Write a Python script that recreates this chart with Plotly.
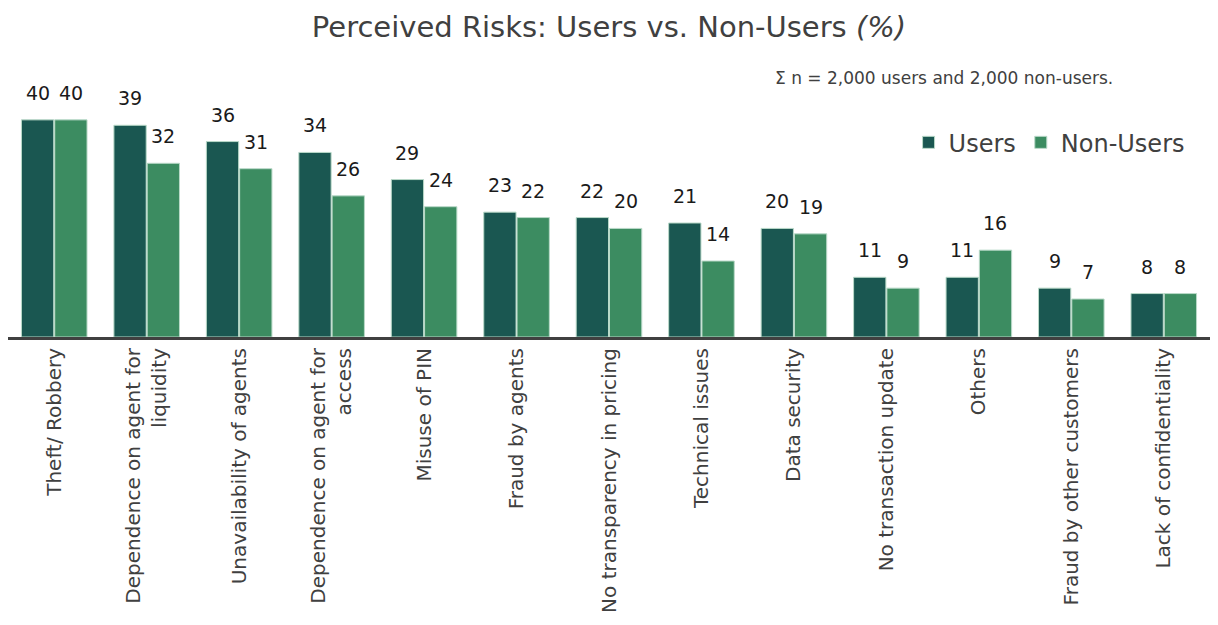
import plotly.graph_objects as go

categories = [
    "Theft/ Robbery",
    "Dependence on agent for<br>liquidity",
    "Unavailability of agents",
    "Dependence on agent for<br>access",
    "Misuse of PIN",
    "Fraud by agents",
    "No transparency in pricing",
    "Technical issues",
    "Data security",
    "No transaction update",
    "Others",
    "Fraud by other customers",
    "Lack of confidentiality",
]
users = [40, 39, 36, 34, 29, 23, 22, 21, 20, 11, 11, 9, 8]
non_users = [40, 32, 31, 26, 24, 22, 20, 14, 19, 9, 16, 7, 8]

FONT = "'DejaVu Sans', sans-serif"
DARK = "#1A5751"
LIGHT = "#3C8C61"
TEXT = "#404040"

BARGAP = 0.28
GROUPGAP = 0.03
PLOT_W = 1218 - 16
slot = PLOT_W / len(categories)
half_offset = slot * (1 - BARGAP) / 4  # distance from category centre to each bar centre

fig = go.Figure()
series = [("Users", users, DARK, -1), ("Non-Users", non_users, LIGHT, 1)]
for name, vals, col, side in series:
    fig.add_trace(go.Bar(
        name=name,
        x=categories,
        y=vals,
        marker=dict(color=col, line=dict(color="#B9D9C8", width=1)),
        cliponaxis=False,
    ))

# value labels above each bar
annotations = []
for name, vals, col, side in series:
    for cat, v in zip(categories, vals):
        annotations.append(dict(
            x=cat, y=v, xref="x", yref="y",
            xshift=side * half_offset, yshift=14,
            text=str(v), showarrow=False,
            xanchor="center", yanchor="bottom",
            font=dict(size=19, color="#1a1a1a", family=FONT),
        ))

annotations.append(dict(
    text="Σ n = 2,000 users and 2,000 non-users.",
    xref="paper", yref="paper",
    x=0.921, xanchor="right",
    y=1.0, yanchor="bottom",
    yshift=19,
    showarrow=False,
    font=dict(size=17, color=TEXT, family=FONT),
))

fig.update_layout(
    width=1218,
    height=625,
    margin=dict(l=8, r=8, t=109, b=288),
    paper_bgcolor="white",
    plot_bgcolor="white",
    barmode="group",
    bargap=BARGAP,
    bargroupgap=GROUPGAP,
    font=dict(family=FONT, color=TEXT),
    title=dict(
        text="Perceived Risks: Users vs. Non-Users <i>(%)</i>",
        x=0.5, xanchor="center", y=0.957, yanchor="middle",
        font=dict(size=29, color=TEXT, family=FONT),
    ),
    legend=dict(
        orientation="h",
        x=0.983, xanchor="right",
        y=0.852, yref="paper", yanchor="middle",
        font=dict(size=24, color=TEXT, family=FONT),
        bgcolor="rgba(0,0,0,0)",
        itemwidth=30,
        traceorder="normal",
    ),
    annotations=annotations,
    showlegend=True,
)

fig.update_xaxes(
    showline=True, linecolor=TEXT, linewidth=3,
    tickangle=-90, ticks="", showgrid=False,
    tickfont=dict(size=20, color=TEXT, family=FONT),
)
fig.update_yaxes(
    range=[0, 42], visible=False, showgrid=False, zeroline=False,
)

fig.write_html("out.html")
